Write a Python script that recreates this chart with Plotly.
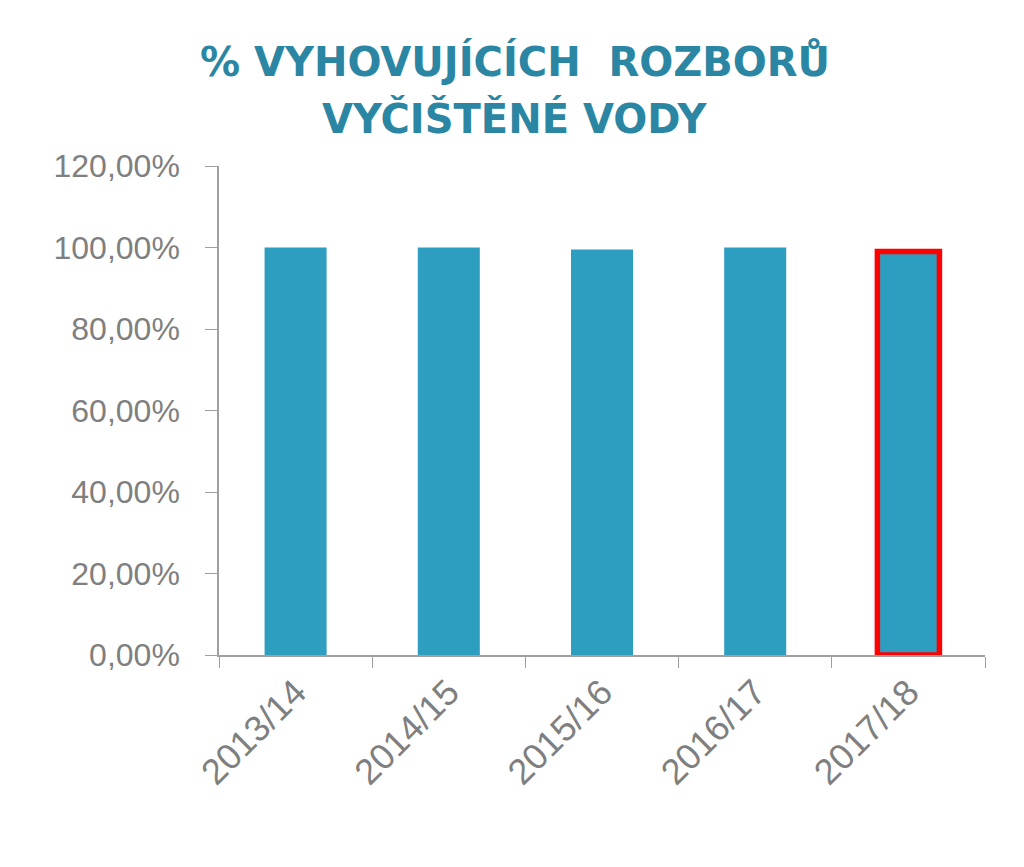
import plotly.graph_objects as go

categories = ["2013/14", "2014/15", "2015/16", "2016/17", "2017/18"]
values = [1.0, 1.0, 0.995, 1.0, 0.99]
highlight = [False, False, False, False, True]
y_ticks = [0, 0.2, 0.4, 0.6, 0.8, 1.0, 1.2]
title_lines = ["% VYHOVUJÍCÍCH  ROZBORŮ", "VYČIŠTĚNÉ VODY"]

bar_color = "#2E9EC0"
line_colors = ["#FF0000" if h else "rgba(0,0,0,0)" for h in highlight]
line_widths = [5.5 if h else 0 for h in highlight]

fig = go.Figure(
    go.Bar(
        x=categories,
        y=values,
        width=0.405,
        marker=dict(color=bar_color, line=dict(color=line_colors, width=line_widths)),
        hoverinfo="x+y",
    )
)

title_font = dict(family="DejaVu Sans", size=40, color="#2A86A2", weight="bold")
for txt, ypos in zip(title_lines, [1.2147, 1.098]):
    fig.add_annotation(
        text=txt, xref="paper", yref="paper", x=0.3864, y=ypos,
        xanchor="center", yanchor="middle", showarrow=False, font=title_font,
    )

fig.update_layout(
    width=1024,
    height=867,
    paper_bgcolor="white",
    plot_bgcolor="white",
    separators=", ",
    showlegend=False,
    margin=dict(l=211, r=47, t=158, b=220),
    font=dict(family="Liberation Sans", color="#808080"),
)

fig.update_yaxes(
    range=[0, 1.2],
    tickvals=y_ticks,
    tickformat=".2%",
    showgrid=False,
    zeroline=False,
    showline=True,
    linecolor="#A0A0A0",
    linewidth=1.5,
    ticks="outside",
    ticklen=12,
    tickcolor="#A0A0A0",
    tickfont=dict(size=32, color="#7F7F7F"),
    ticklabelstandoff=19,
)

fig.update_xaxes(
    showgrid=False,
    showline=True,
    linecolor="#A0A0A0",
    linewidth=1.5,
    ticks="outside",
    tickson="boundaries",
    ticklen=11,
    tickcolor="#A0A0A0",
    tickangle=-45,
    tickfont=dict(size=36, color="#7F7F7F"),
)

fig.write_html("out.html")
